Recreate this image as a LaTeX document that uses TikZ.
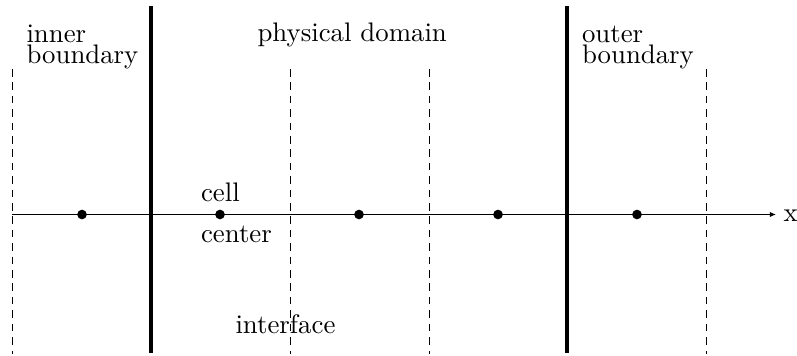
\documentclass[tikz,border=0pt]{standalone}
\usetikzlibrary{arrows.meta}
\begin{document}
\begin{tikzpicture}[x=0.373pt,y=-0.373pt,
  thickline/.style={line width=1.25pt},
  dashline/.style={line width=0.3pt,dash pattern=on 2.8pt off 2.2pt},
  axisline/.style={line width=0.4pt,-{Latex[length=2.3pt,width=2pt]}},
  celldot/.style={circle,fill=black,inner sep=0pt,minimum size=3.6pt},
  lbl/.style={anchor=base west,inner sep=0pt,font=\normalsize},
  twoline/.style={anchor=base west,inner sep=0pt,align=left,
    font={\fontsize{10pt}{8pt}\selectfont}}]
\useasboundingbox (0,0) rectangle (797,356);
% boundaries
\coordinate (t1) at (151,6); \coordinate (b1) at (151,353);
\coordinate (t2) at (567,6); \coordinate (b2) at (567,353);
\draw[thickline] (t1) -- (b1);
\draw[thickline] (t2) -- (b2);
% interfaces
\foreach \n/\xx in {d1/12,d2/290,d3/429,d4/706}{
  \coordinate (\n t) at (\xx,69);
  \coordinate (\n b) at (\xx,354);
  \draw[dashline] (\n t) -- (\n b);
}
% axis
\coordinate (xs) at (12,214.5);
\coordinate (xe) at (776,214.5);
\draw[axisline] (xs) -- (xe);
\node[lbl] (xl) at (783,221.7) {x};
% cell centers
\foreach \n/\xx in {c1/82,c2/220,c3/359,c4/498,c5/637}{
  \node[celldot] (\n) at (\xx,214.5) {};
}
% labels
\node[twoline] (inner) at (26,63.5) {inner\\boundary};
\node[lbl] (phys) at (257,42) {physical domain};
\node[twoline] (outer) at (581.5,63.5) {outer\\boundary};
\node[lbl] (cell) at (200.5,201.5) {cell};
\node[lbl] (center) at (200.5,242.5) {center};
\node[lbl] (intf) at (235,333) {interface};
\end{tikzpicture}
\end{document}
